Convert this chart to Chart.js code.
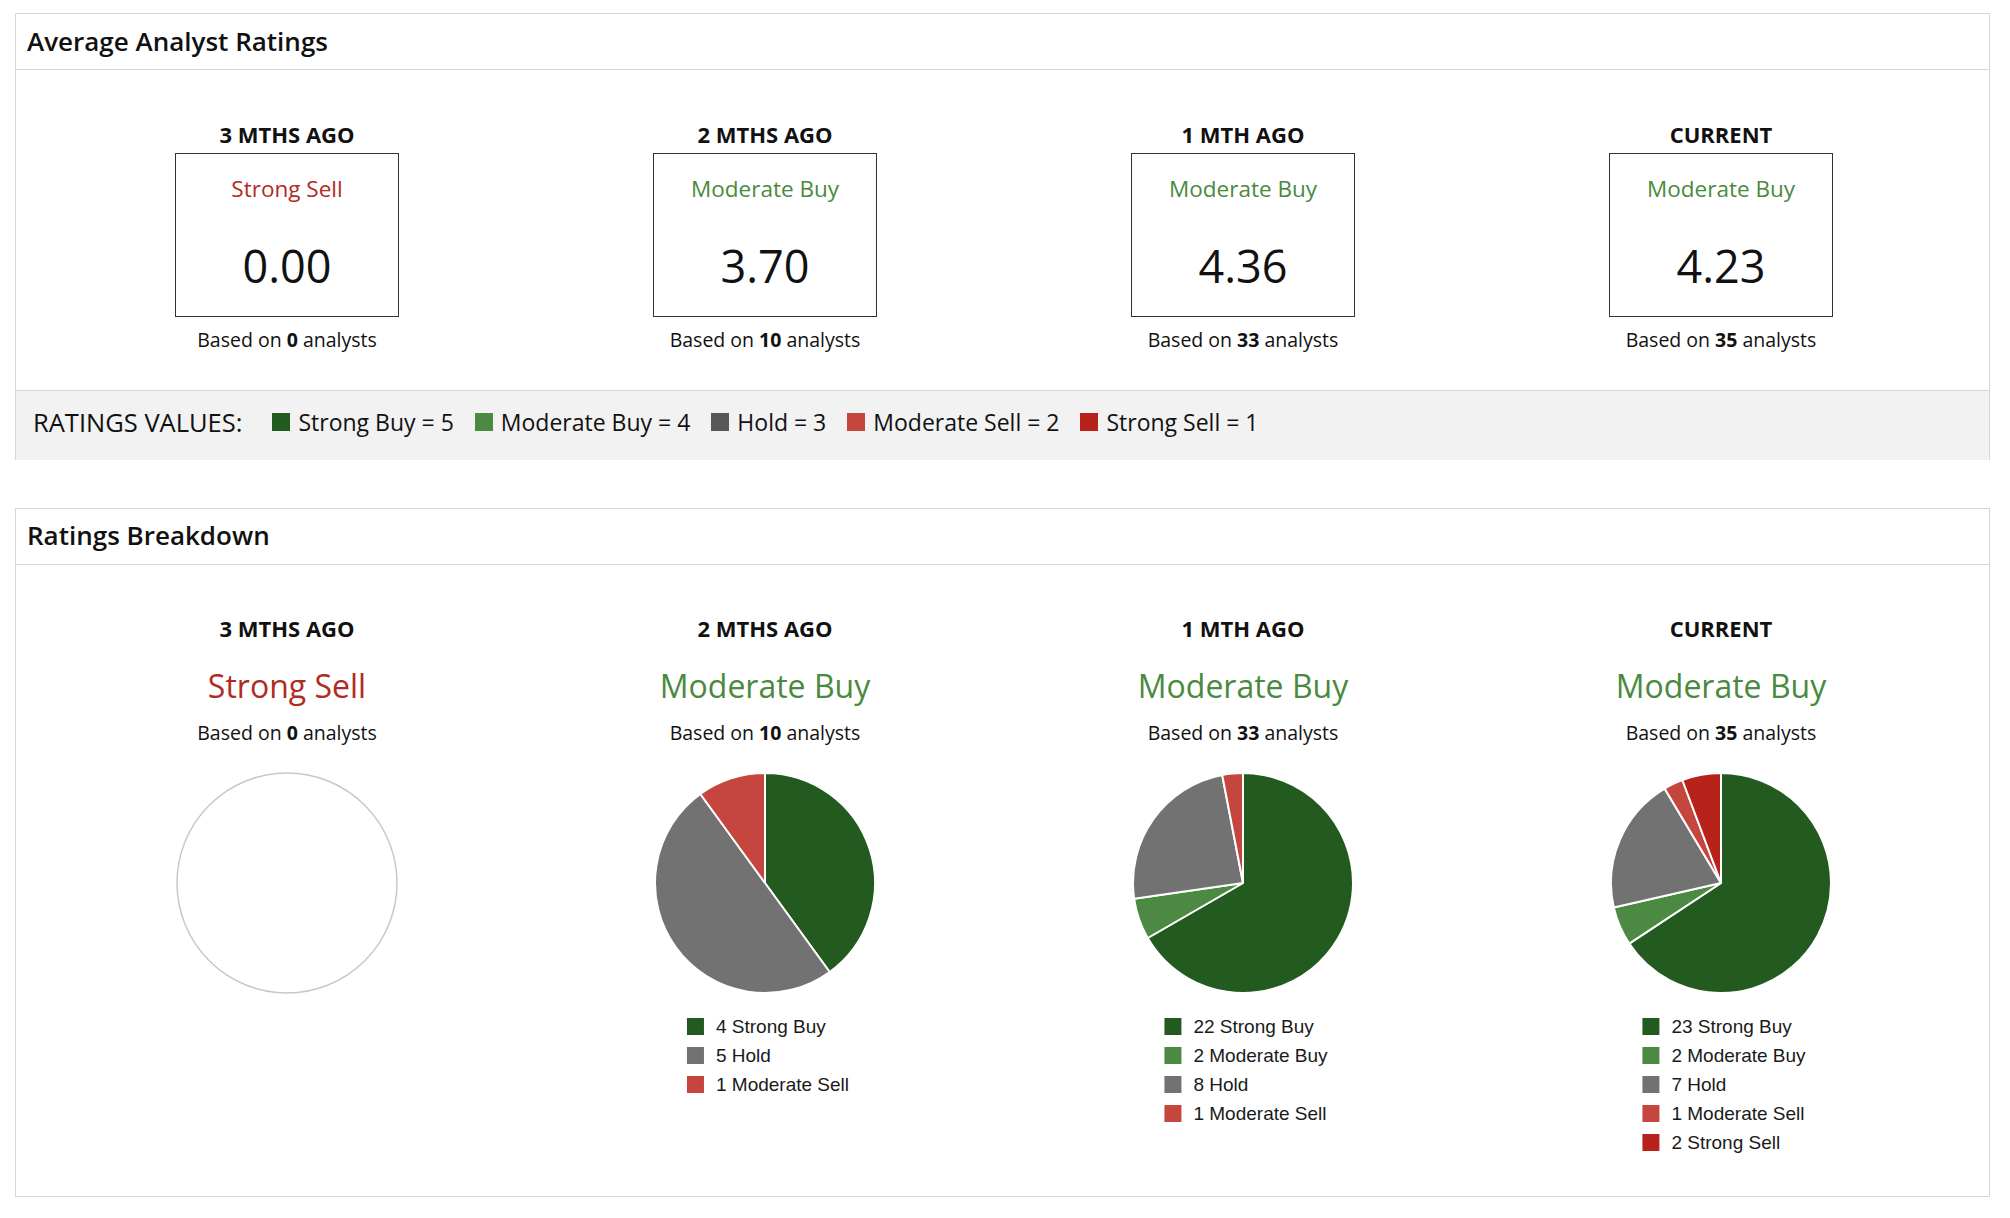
<!DOCTYPE html>
<html>
<head>
<meta charset="utf-8">
<script src="https://cdn.jsdelivr.net/npm/chart.js@4.4.1/dist/chart.umd.min.js"></script>
<style>
  html, body { margin: 0; padding: 0; background: #fff; }
  body { width: 2010px; height: 1218px; position: relative; font-family: "Open Sans", "Noto Sans", sans-serif; color: #111; overflow: hidden; }
  .panel { position: absolute; left: 15px; width: 1975px; border: 1px solid #d6d6d6; box-sizing: border-box; }
  .panel-head { position: absolute; left: 0; top: 0; width: 100%; height: 56px; border-bottom: 1px solid #d6d6d6; box-sizing: border-box; }
  .abs { position: absolute; white-space: nowrap; }
  .title { font-size: 26px; line-height: 30px; font-weight: 600; left: 11px; }
  .center { transform: translateX(-50%); text-align: center; }
  .head { font-size: 22px; line-height: 26px; font-weight: 700; }
  .box { position: absolute; width: 224px; height: 164px; border: 1px solid #333; box-sizing: border-box; transform: translateX(-50%); }
  .label-sm { font-size: 22.5px; line-height: 28px; }
  .score { font-size: 45px; line-height: 50px; }
  .based { font-size: 19.5px; line-height: 24px; }
  .label-lg { font-size: 32px; line-height: 36px; }
  .values { position: absolute; left: 0; width: 100%; background: #f2f2f2; border-top: 1px solid #d6d6d6; box-sizing: border-box; }
  .values-row { position: absolute; left: 17px; display: flex; align-items: center; font-size: 23px; line-height: 30px; }
  .values-row .cap { font-size: 25.5px; margin-right: 30px; }
  .values-row .sw { width: 18px; height: 18px; margin-right: 8px; }
  .values-row .item { display: flex; align-items: center; margin-right: 21px; }
  .pie-wrap { position: absolute; width: 224px; height: 224px; transform: translateX(-50%); }
  .legend { position: absolute; transform: translateX(-50%); font-family: "Liberation Sans", Arial, sans-serif; font-size: 19px; color: #1a1a1a; }
  .legend div { display: flex; align-items: center; height: 29px; }
  .legend span.sw { width: 17px; height: 17px; margin-right: 12px; display: inline-block; }
</style>
</head>
<body>
<div class="panel" style="top:13px;height:447px;" id="avgPanel">
  <div class="panel-head"></div>
  <div class="abs title" style="top:12px;">Average Analyst Ratings</div>
  <div class="values" style="top:376px;height:70px;">
    <div class="values-row" id="valuesRow" style="top:16px;"></div>
  </div>
</div>
<div class="panel" style="top:508px;height:689px;" id="breakPanel">
  <div class="panel-head"></div>
  <div class="abs title" style="top:11px;">Ratings Breakdown</div>
</div>

<script>
// ---- data ----
const periods = ['3 MTHS AGO', '2 MTHS AGO', '1 MTH AGO', 'CURRENT'];
const avgRatings = [0.00, 3.70, 4.36, 4.23];
const consensus = ['Strong Sell', 'Moderate Buy', 'Moderate Buy', 'Moderate Buy'];
const analystCounts = [0, 10, 33, 35];

const ratingLabels = ['Strong Buy', 'Moderate Buy', 'Hold', 'Moderate Sell', 'Strong Sell'];
const ratingValues = [5, 4, 3, 2, 1];

// analyst counts per period, one array per rating
const strongBuy = [0, 4, 22, 23];
const moderateBuy = [0, 0, 2, 2];
const hold = [0, 5, 8, 7];
const moderateSell = [0, 1, 1, 1];
const strongSell = [0, 0, 0, 2];

// ---- styling ----
const pieColors = ['#235a20', '#4c8a43', '#727272', '#c5453f', '#b7231b'];
const keyColors = ['#235a20', '#4c8a43', '#585858', '#c5453f', '#b7231b'];
const consensusColor = { 'Strong Sell': '#b22a22', 'Moderate Buy': '#4a8a3e', 'Hold': '#555', 'Strong Buy': '#235a20', 'Moderate Sell': '#c5453f' };

const colCenter = i => 286 - 15 + i * 478;   // relative to panel left

const avgPanel = document.getElementById('avgPanel');
const breakPanel = document.getElementById('breakPanel');
const PANEL2_TOP = 508;

function addText(parent, cls, text, left, top, color, html) {
  const el = document.createElement('div');
  el.className = 'abs center ' + cls;
  if (html) el.innerHTML = html; else el.textContent = text;
  el.style.left = left + 'px';
  el.style.top = top + 'px';
  if (color) el.style.color = color;
  parent.appendChild(el);
  return el;
}

const basedOn = n => 'Based on <b>' + n + '</b> analysts';

// --- 1. Average ratings boxes ---
periods.forEach((p, i) => {
  const cx = colCenter(i);
  addText(avgPanel, 'head', p, cx, 107);
  const box = document.createElement('div');
  box.className = 'box';
  box.style.left = cx + 'px';
  box.style.top = (152 - 13) + 'px';
  avgPanel.appendChild(box);
  addText(avgPanel, 'label-sm', consensus[i], cx, 161, consensusColor[consensus[i]]);
  addText(avgPanel, 'score', avgRatings[i].toFixed(2), cx, 227);
  addText(avgPanel, 'based', '', cx, 314, null, basedOn(analystCounts[i]));
});

// --- 2. Ratings values key ---
const valuesRow = document.getElementById('valuesRow');
valuesRow.innerHTML = '<span class="cap">RATINGS VALUES:</span>' +
  ratingLabels.map((l, k) =>
    '<span class="item"><span class="sw" style="background:' + keyColors[k] + '"></span>' + l + ' = ' + ratingValues[k] + '</span>'
  ).join('');

// --- 3. Breakdown pies ---
const emptyPie = {
  id: 'emptyPie',
  afterDraw(chart) {
    const total = chart.data.datasets[0].data.reduce((a, b) => a + b, 0);
    if (total > 0) return;
    const { chartArea: { left, top, right, bottom }, ctx } = chart;
    const r = Math.min(right - left, bottom - top) / 2 - 1;
    ctx.save();
    ctx.beginPath();
    ctx.arc((left + right) / 2, (top + bottom) / 2, r, 0, 2 * Math.PI);
    ctx.strokeStyle = '#c8c8c8';
    ctx.lineWidth = 1.5;
    ctx.stroke();
    ctx.restore();
  }
};

periods.forEach((p, i) => {
  const cx = colCenter(i);
  addText(breakPanel, 'head', p, cx, 614 - PANEL2_TOP);
  addText(breakPanel, 'label-lg', consensus[i], cx, 667 - PANEL2_TOP, consensusColor[consensus[i]]);
  addText(breakPanel, 'based', '', cx, 720 - PANEL2_TOP, null, basedOn(analystCounts[i]));

  const wrap = document.createElement('div');
  wrap.className = 'pie-wrap';
  wrap.style.left = cx + 'px';
  wrap.style.top = (770 - PANEL2_TOP) + 'px';
  const canvas = document.createElement('canvas');
  wrap.appendChild(canvas);
  breakPanel.appendChild(wrap);

  const counts = [strongBuy[i], moderateBuy[i], hold[i], moderateSell[i], strongSell[i]];
  const chart = new Chart(canvas.getContext('2d'), {
    type: 'pie',
    data: {
      labels: ratingLabels,
      datasets: [{
        data: counts,
        backgroundColor: pieColors,
        borderColor: '#ffffff',
        borderWidth: 2
      }]
    },
    options: {
      responsive: true,
      maintainAspectRatio: false,
      animation: false,
      layout: { padding: 1 },
      plugins: { legend: { display: false }, tooltip: { enabled: false } }
    },
    plugins: [emptyPie]
  });

  // html legend: only ratings with analysts, one per row
  const items = chart.data.labels
    .map((l, k) => ({ l, k, n: counts[k] }))
    .filter(d => d.n > 0);
  if (items.length) {
    const leg = document.createElement('div');
    leg.className = 'legend';
    leg.style.left = (cx + 3) + 'px';
    leg.style.top = (1011 - PANEL2_TOP) + 'px';
    leg.innerHTML = items.map(d =>
      '<div><span class="sw" style="background:' + pieColors[d.k] + '"></span>' + d.n + ' ' + d.l + '</div>'
    ).join('');
    breakPanel.appendChild(leg);
  }
});
</script>
</body>
</html>
